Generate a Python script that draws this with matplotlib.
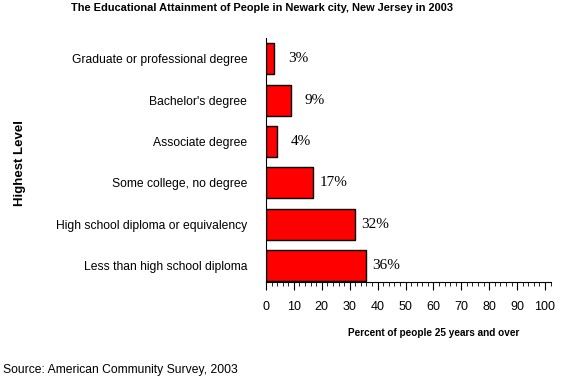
"""Educational attainment bar chart, Newark 2003."""

import matplotlib

matplotlib.use("Agg")
from matplotlib import pyplot as plt
from matplotlib.ticker import MultipleLocator

categories = [
    "Less than high school diploma",
    "High school diploma or equivalency",
    "Some college, no degree",
    "Associate degree",
    "Bachelor's degree",
    "Graduate or professional degree",
]
percents = [36, 32, 17, 4, 9, 3]

plt.rcParams["font.family"] = ["Liberation Sans", "DejaVu Sans"]

fig = plt.figure(figsize=(5.7, 3.8), dpi=100)
ax = fig.add_axes([266 / 570, 98 / 380, 284.6 / 570, 244 / 380])

positions = range(len(categories))
ax.barh(positions, percents, height=0.75, color="#ff0000", edgecolor="black", linewidth=1)
for pos, value in zip(positions, percents):
    ax.annotate(
        f"{value}%",
        xy=(value, pos),
        xytext=(24.5, 0),
        textcoords="offset points",
        ha="right",
        va="center",
        fontsize=11,
        family=["Liberation Serif", "DejaVu Serif"],
    )

ax.set_xlim(0, 102)
ax.set_ylim(-0.4, 5.5)
ax.set_yticks(list(positions))
ax.set_yticklabels(categories, fontsize=8.7)
ax.tick_params(axis="y", length=0, pad=13.5)
ax.xaxis.set_major_locator(MultipleLocator(10))
ax.xaxis.set_minor_locator(MultipleLocator(2))
ax.set_xticks(range(0, 101, 10))
ax.tick_params(axis="x", which="major", length=6, labelsize=9, pad=8)
ax.tick_params(axis="x", which="minor", length=3)
for side in ("top", "right"):
    ax.spines[side].set_visible(False)

fig.text(262 / 570, 1 - 8 / 380, "The Educational Attainment of People in Newark city, New Jersey in 2003",
         ha="center", va="center", fontsize=7.9, weight="bold")
fig.text(434 / 570, 1 - 333 / 380, "Percent of people 25 years and over",
         ha="center", va="center", fontsize=7.2, weight="bold")
fig.text(20 / 570, 1 - 163 / 380, "Highest Level", rotation=90,
         ha="center", va="center", fontsize=9.5, weight="bold")
fig.text(3 / 570, 1 - 370 / 380, "Source: American Community Survey, 2003",
         ha="left", va="center", fontsize=8.7)

fig.savefig("out.png", dpi=100)
